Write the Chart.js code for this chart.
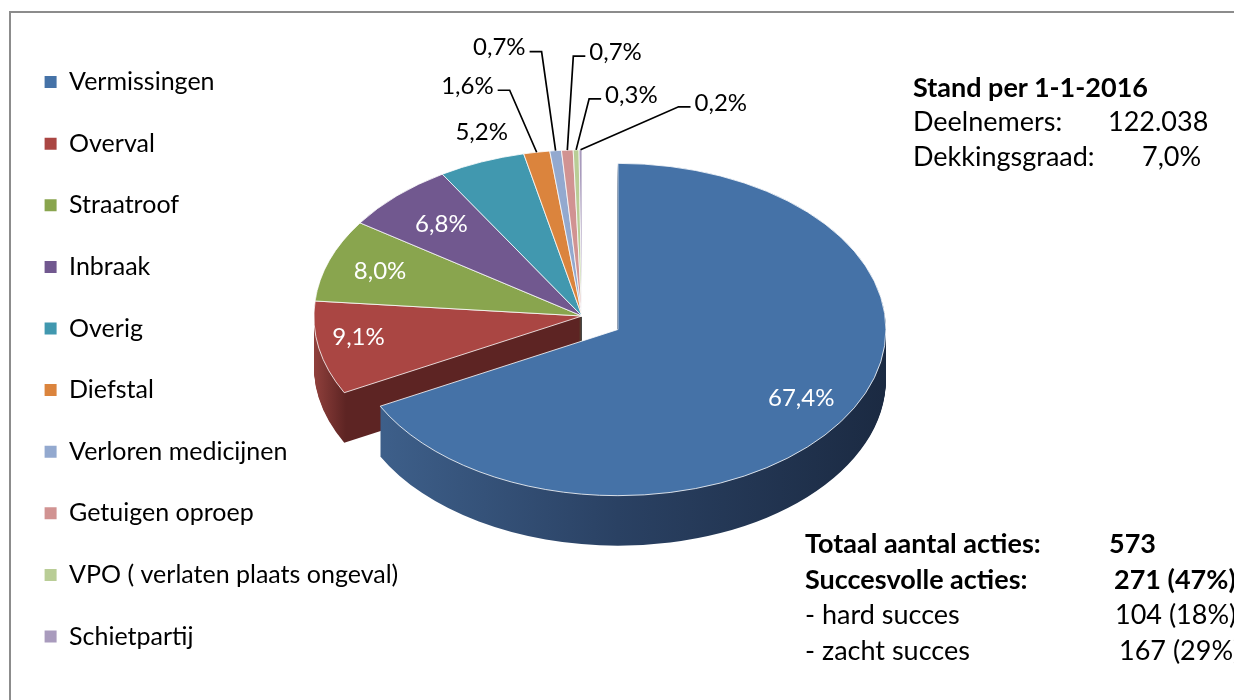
<!DOCTYPE html>
<html>
<head>
<meta charset="utf-8">
<script src="https://cdn.jsdelivr.net/npm/chart.js@4.4.1/dist/chart.umd.min.js"></script>
<style>
  html, body { margin: 0; padding: 0; background: #fff; overflow: hidden; }
  #wrap { position: relative; width: 1234px; height: 700px; overflow: hidden; }
  #frame { position: absolute; left: 9px; top: 11px; width: 1400px; height: 900px;
           border-left: 2px solid #8c8c8c; border-top: 2px solid #8c8c8c; }
  canvas { position: absolute; left: 0; top: 0; }
  .note { position: absolute; font-family: Lato, sans-serif; font-size: 27px; color: #000;
          white-space: nowrap; line-height: 30px; }
  .b { font-weight: bold; }
</style>
</head>
<body>
<div id="wrap">
  <div id="frame"></div>
  <canvas id="pie" width="1234" height="700"></canvas>
</div>
<script>
// acties per soort (totaal 573)
const categories = ['Vermissingen', 'Overval', 'Straatroof', 'Inbraak', 'Overig', 'Diefstal',
  'Verloren medicijnen', 'Getuigen oproep', 'VPO ( verlaten plaats ongeval)', 'Schietpartij'];
const acties = [386, 52, 46, 39, 30, 9, 4, 4, 2, 1];

const standTitle = 'Stand per 1-1-2016';
const standLabels = ['Deelnemers:', 'Dekkingsgraad:'];
const standValues = ['122.038', '7,0%'];

const resultLabels = ['Totaal aantal acties:', 'Succesvolle acties:', '- hard succes', '- zacht succes'];
const resultValues = ['573', '271 (47%)', '104 (18%)', '167 (29%)'];

const colors = ['#4572A7', '#AA4643', '#89A54E', '#71588F', '#4198AF', '#DB843D',
  '#93A9CF', '#D19392', '#B9CD96', '#A99BBD'];
const sideColors = ['#2b4566', '#5d2423', '#536530', '#443556', '#275c6a', '#844f25',
  '#59667d', '#7e5958', '#707b5b', '#665d72'];

const pieCenter = { x: 582, y: 316 };
const squash = 0.62;
const depth = 50;
const font = 'Lato, sans-serif';

// label placement per slice: inside, plain outside, or with a leader line
const labelPlace = [
  { inside: 0.8 }, { inside: 0.85, dy: -6 }, { inside: 0.8 }, { inside: 0.76 },
  { dx: 0, dy: -30 },
  { elbow: [-27, -62], side: -1 },
  { elbow: [-14, -99], side: -1 },
  { elbow: [6, -94], side: 1 },
  { elbow: [13, -51], side: 1 },
  { elbow: [98, -43], side: 1 }
];

function toScreen(el, px, py, d) {
  return [pieCenter.x + (px - el.x), pieCenter.y + d + squash * (py - el.y)];
}

function sliceOrigin(el) {
  const mid = (el.startAngle + el.endAngle) / 2;
  const off = el.options.offset || 0;
  return [el.x + Math.cos(mid) * off, el.y + Math.sin(mid) * off, mid];
}

function slicePath(ctx, el, d) {
  const [x, y] = sliceOrigin(el);
  ctx.save();
  ctx.translate(pieCenter.x, pieCenter.y + d);
  ctx.scale(1, squash);
  ctx.translate(-el.x, -el.y);
  ctx.beginPath();
  ctx.moveTo(x, y);
  ctx.arc(x, y, el.outerRadius, el.startAngle, el.endAngle);
  ctx.closePath();
  ctx.restore();
}

function sideFill(ctx, el, i) {
  const [x] = sliceOrigin(el);
  const sx = pieCenter.x + (x - el.x);
  const R = el.outerRadius;
  if (i === 0) {
    const g = ctx.createLinearGradient(sx - R, 0, sx + R, 0);
    g.addColorStop(0, '#40638f');
    g.addColorStop(0.5, '#2a4163');
    g.addColorStop(1, '#1b2a42');
    return g;
  }
  if (i === 1) {
    const g = ctx.createLinearGradient(sx - R, 0, sx - R + 32, 0);
    g.addColorStop(0, '#90403c');
    g.addColorStop(1, sideColors[1]);
    return g;
  }
  return sideColors[i];
}

const pie3d = {
  id: 'pie3d',
  beforeDatasetsDraw(chart) {
    const ctx = chart.ctx;
    const arcs = chart.getDatasetMeta(0).data;
    // walls, back to front
    for (let i = arcs.length - 1; i >= 0; i--) {
      ctx.fillStyle = sideFill(ctx, arcs[i], i);
      for (let d = depth; d >= 1; d--) {
        slicePath(ctx, arcs[i], d);
        ctx.fill();
      }
    }
    // top faces
    arcs.forEach((el, i) => {
      slicePath(ctx, el, 0);
      ctx.fillStyle = colors[i];
      ctx.fill();
      ctx.strokeStyle = 'rgba(255,255,255,0.8)';
      ctx.lineWidth = 1;
      ctx.stroke();
    });
    return false;
  },
  afterDraw(chart) {
    const ctx = chart.ctx;
    const arcs = chart.getDatasetMeta(0).data;
    const values = chart.data.datasets[0].data;
    const total = values.reduce((a, b) => a + b, 0);
    ctx.save();
    ctx.font = '24px ' + font;
    ctx.textBaseline = 'middle';
    arcs.forEach((el, i) => {
      const text = (values[i] / total * 100).toFixed(1).replace('.', ',') + '%';
      const [ox, oy, mid] = sliceOrigin(el);
      const p = labelPlace[i];
      const R = el.outerRadius;
      if (p.inside) {
        const [sx, sy] = toScreen(el, ox + Math.cos(mid) * R * p.inside, oy + Math.sin(mid) * R * p.inside, 0);
        ctx.fillStyle = '#fff';
        ctx.textAlign = 'center';
        ctx.fillText(text, sx, sy + (p.dy || 0));
        return;
      }
      const [ax, ay] = toScreen(el, ox + Math.cos(mid) * R, oy + Math.sin(mid) * R, 0);
      ctx.fillStyle = '#000';
      if (!p.elbow) {
        ctx.textAlign = 'center';
        ctx.fillText(text, ax + p.dx, ay + p.dy);
        return;
      }
      const ex = ax + p.elbow[0], ey = ay + p.elbow[1];
      const tx = ex + p.side * 12;
      ctx.strokeStyle = '#000';
      ctx.lineWidth = 1.7;
      ctx.beginPath();
      ctx.moveTo(ax, ay);
      ctx.lineTo(ex, ey);
      ctx.lineTo(tx, ey);
      ctx.stroke();
      ctx.textAlign = p.side < 0 ? 'right' : 'left';
      ctx.fillText(text, tx + p.side * 4, ey - 4);
    });
    ctx.restore();
  }
};

new Chart(document.getElementById('pie'), {
  type: 'pie',
  data: {
    labels: categories,
    datasets: [{
      data: acties,
      backgroundColor: colors,
      borderWidth: 0,
      offset: [42, 0, 0, 0, 0, 0, 0, 0, 0, 0],
      radius: 268,
      clip: false
    }]
  },
  options: {
    responsive: false,
    animation: false,
    events: [],
    layout: { padding: { left: 8, top: 33, right: 0, bottom: 0 } },
    plugins: {
      tooltip: { enabled: false },
      legend: {
        position: 'left',
        align: 'start',
        labels: {
          boxWidth: 12,
          boxHeight: 12,
          padding: 36.6,
          color: '#000',
          font: { family: font, size: 25 }
        }
      }
    }
  },
  plugins: [pie3d]
});

// tekstvakken
const wrap = document.getElementById('wrap');
function note(text, left, centerY, bold) {
  const div = document.createElement('div');
  div.className = 'note' + (bold ? ' b' : '');
  div.textContent = text;
  div.style.left = left + 'px';
  div.style.top = (centerY - 15) + 'px';
  wrap.appendChild(div);
}
note(standTitle, 913, 87, true);
const standValueX = [1108, 1142];
standLabels.forEach((t, i) => {
  note(t, 913, 121 + i * 35, false);
  note(standValues[i], standValueX[i], 121 + i * 35, false);
});
const resultValueX = [1109, 1114, 1115, 1119];
const resultY = [543, 579, 614, 650];
resultLabels.forEach((t, i) => {
  note(t, 805, resultY[i], i < 2);
  note(resultValues[i], resultValueX[i], resultY[i], i < 2);
});
</script>
</body>
</html>
